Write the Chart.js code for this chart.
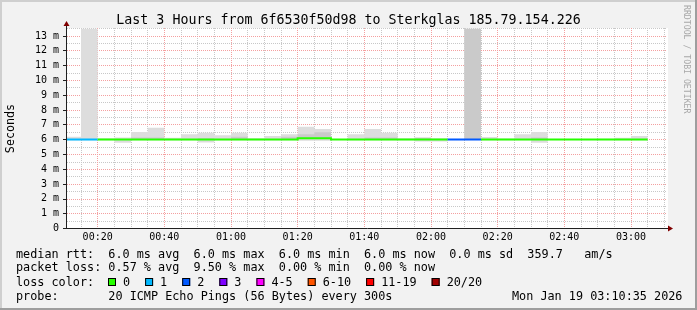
<!DOCTYPE html>
<html lang="en">
<head>
<meta charset="utf-8">
<title>Smokeping - last 3 hours</title>
<script src="https://cdn.jsdelivr.net/npm/chart.js@4.4.1/dist/chart.umd.min.js"></script>
<style>
    html, body { margin: 0; padding: 0; background: #f2f2f2; }
    canvas { display: block; }
</style>
</head>
<body>
<canvas id="diagram" width="697" height="310"></canvas>
<script>
// start of each 5 minute bin, minutes after midnight (last entry closes the final bin)
const binStart = [10, 15, 20, 25, 30, 35, 40, 45, 50, 55, 60, 65,
    70, 75, 80, 85, 90, 95, 100, 105, 110, 115, 120, 125,
    130, 135, 140, 145, 150, 155, 160, 165, 170, 175, 180, 185];

// median rtt per bin (ms)
const medianRtt = [6.00, 6.00, 6.00, 6.00, 6.00,
    6.00, 6.00, 6.00, 6.00, 6.00,
    6.00, 6.00, 6.00, 6.00, 6.09,
    6.09, 6.00, 6.00, 6.00, 6.00,
    6.00, 6.00, 6.00, 6.00, 6.00,
    6.00, 6.00, 6.00, 6.00, 6.00,
    6.00, 6.00, 6.00, 6.00, 6.00];

// smoke: lowest and highest ping per bin (ms)
const smokeMin = [5.95, 5.95, 5.95, 5.78, 5.95,
    5.95, 5.95, 5.95, 5.80, 5.95,
    5.95, 5.95, 5.95, 5.95, 5.92,
    5.92, 5.97, 5.95, 5.95, 5.95,
    5.95, 5.88, 5.88, 6.00, 6.00,
    5.95, 5.95, 5.95, 5.78, 5.97,
    5.98, 5.98, 5.97, 5.95, 5.95];

const smokeMax = [6.19, 14.0, 6.10, 6.15, 6.52,
    6.80, 6.12, 6.37, 6.46, 6.30,
    6.46, 6.10, 6.24, 6.37, 6.86,
    6.72, 6.03, 6.37, 6.72, 6.46,
    6.10, 6.15, 6.10, 6.00, 14.0,
    6.17, 6.08, 6.37, 6.52, 6.03,
    6.03, 6.03, 6.06, 6.12, 6.25];

// denser inner smoke, from the median up to this value (ms)
const smokeMid = [6.00, 6.00, 6.00, 6.00, 6.15,
    6.15, 6.00, 6.00, 6.10, 6.00,
    6.20, 6.00, 6.00, 6.20, 6.37,
    6.50, 6.00, 6.00, 6.15, 6.15,
    6.00, 6.13, 6.00, 6.00, 14.0,
    6.00, 6.00, 6.00, 6.15, 6.00,
    6.00, 6.00, 6.00, 6.00, 6.00];

// lost pings (of 20) per bin
const lossCount = [1, 1, 0, 0, 0, 0, 0, 0, 0, 0,
    0, 0, 0, 0, 0, 0, 0, 0, 0, 0,
    0, 0, 0, 2, 2, 0, 0, 0, 0, 0,
    0, 0, 0, 0, 0];

const xTickValues = [20, 40, 60, 80, 100, 120, 140, 160, 180];
const xTickLabels = ['00:20', '00:40', '01:00', '01:20', '01:40', '02:00', '02:20', '02:40', '03:00'];
const yTickLabels = ['0', '1 m', '2 m', '3 m', '4 m', '5 m', '6 m', '7 m',
    '8 m', '9 m', '10 m', '11 m', '12 m', '13 m'];

const lossLabels = ['0', '1', '2', '3', '4-5', '6-10', '11-19', '20/20'];
const lossColors = ['#26ff00', '#00b8ff', '#0059ff', '#7e00ff', '#ff00ff', '#ff5500', '#ff0000', '#a10000'];

const titleText = 'Last 3 Hours from 6f6530f50d98 to Sterkglas 185.79.154.226';
const rttLine = 'median rtt:  6.0 ms avg  6.0 ms max  6.0 ms min  6.0 ms now  0.0 ms sd  359.7   am/s';
const lossLine = 'packet loss: 0.57 % avg  9.50 % max  0.00 % min  0.00 % now';
const probeLine = 'probe:       20 ICMP Echo Pings (56 Bytes) every 300s';
const dateText = 'Mon Jan 19 03:10:35 2026';

const MONO = 'DejaVu Sans Mono';
const GRID = '#c8c8c8';
const MGRID = '#f4a0a0';

/**
* Maps number of lost pings to index in the loss colour legend
* @param {number} n - lost pings
* @returns {number}
*/
function lossIndex(n) {
    if (n <= 3) return n;
    if (n <= 5) return 4;
    if (n <= 10) return 5;
    if (n <= 19) return 6;
    return 7;
}

/**
* Builds step points from a per-bin series
* @param {Array} values - one value per bin
* @returns {Array} points {x, y}
*/
function toSteps(values) {
    const pts = values.map((v, i) => ({ x: binStart[i], y: v }));
    pts.push({ x: binStart[values.length], y: values[values.length - 1] });
    return pts;
}

/**
* Dotted grid line, one pixel on and one off
*/
function dottedLine(ctx, x0, y0, x1, y1, color) {
    ctx.fillStyle = color;
    if (y0 === y1) {
        for (let x = x0; x < x1; x += 2) ctx.fillRect(x, y0, 1, 1);
    } else {
        for (let y = y0; y < y1; y += 2) ctx.fillRect(x0, y, 1, 1);
    }
}

/**
* Pixel row of a y value, snapped to whole pixels
*/
function rowOf(scale, v) {
    return Math.floor(scale.getPixelForValue(v) + 0.2);
}

/**
* Background, grid, frame, axes, arrows and the text block of the rrdtool graph
*/
const rrdFrame = {
    id: 'rrdFrame',
    beforeDraw(chart) {
        const ctx = chart.ctx;
        const a = chart.chartArea;
        const L = Math.round(a.left), R = Math.round(a.right);
        const T = Math.floor(a.top), B = Math.floor(a.bottom);
        ctx.save();
        ctx.fillStyle = '#f2f2f2';
        ctx.fillRect(0, 0, 697, 310);
        ctx.fillStyle = '#cfcfcf';
        ctx.fillRect(0, 0, 697, 2);
        ctx.fillRect(0, 0, 2, 310);
        ctx.fillStyle = '#9e9e9e';
        ctx.fillRect(0, 308, 697, 2);
        ctx.fillRect(695, 0, 2, 310);
        ctx.fillStyle = '#ffffff';
        ctx.fillRect(L, T, R - L + 1, B - T);
        ctx.restore();
    },
    beforeDatasetsDraw(chart) {
        const ctx = chart.ctx;
        const a = chart.chartArea;
        const xs = chart.scales.x;
        const ys = chart.scales.y;
        const L = Math.round(a.left), R = Math.round(a.right);
        const T = Math.floor(a.top), B = Math.floor(a.bottom);
        ctx.save();
        const majors = [];
        for (let m = 15; m <= 190; m += 5) {
            const px = Math.floor(xs.getPixelForValue(m));
            if (m % 20 === 0) majors.push(['v', px]);
            else dottedLine(ctx, px, T, px, B, GRID);
        }
        for (let v = 0.5; v <= 13.5; v += 0.5) {
            const py = rowOf(ys, v);
            if (Number.isInteger(v)) majors.push(['h', py]);
            else dottedLine(ctx, L, py, R, py, GRID);
        }
        majors.forEach(([dir, p]) => {
            if (dir === 'v') dottedLine(ctx, p, T, p, B, MGRID);
            else dottedLine(ctx, L, p, R, p, MGRID);
        });
        ctx.restore();
    },
    afterDraw(chart) {
        const ctx = chart.ctx;
        const a = chart.chartArea;
        const yScale = chart.scales.y;
        const L = Math.round(a.left), R = Math.round(a.right);
        const T = Math.floor(a.top), B = Math.floor(a.bottom);
        ctx.save();

        // axes
        ctx.strokeStyle = '#202020';
        ctx.lineWidth = 1;
        ctx.beginPath();
        ctx.moveTo(L - 0.5, B + 1);
        ctx.lineTo(L - 0.5, T - 2);
        ctx.moveTo(L - 1, B + 0.5);
        ctx.lineTo(R + 2, B + 0.5);
        for (let v = 1; v <= 13; v++) {
            const py = rowOf(yScale, v) + 0.5;
            ctx.moveTo(L - 4, py);
            ctx.lineTo(L - 1, py);
        }
        ctx.moveTo(L - 4, B + 0.5);
        ctx.lineTo(L - 1, B + 0.5);
        ctx.stroke();

        // arrows
        ctx.fillStyle = '#800000';
        ctx.beginPath();
        ctx.moveTo(L - 0.5, T - 7);
        ctx.lineTo(L - 3.5, T - 2);
        ctx.lineTo(L + 2.5, T - 2);
        ctx.closePath();
        ctx.fill();
        ctx.beginPath();
        ctx.moveTo(R + 6, B + 0.5);
        ctx.lineTo(R + 1, B - 2.5);
        ctx.lineTo(R + 1, B + 3.5);
        ctx.closePath();
        ctx.fill();

        // title
        ctx.fillStyle = '#000';
        ctx.textBaseline = 'alphabetic';
        ctx.textAlign = 'center';
        ctx.font = '13.3px "' + MONO + '"';
        ctx.fillText(titleText, 348.5, 24);

        // legend block
        ctx.textAlign = 'left';
        ctx.font = '11.8px "' + MONO + '"';
        ctx.fillText(rttLine, 16, 258);
        ctx.fillText(lossLine, 16, 271);
        ctx.fillText('loss color:', 16, 286);
        ctx.fillText(probeLine, 16, 300);
        ctx.fillText(dateText, 512, 300);

        let bx = 108;
        lossLabels.forEach((lab, i) => {
            ctx.fillStyle = lossColors[i];
            ctx.fillRect(bx, 278, 8, 8);
            ctx.strokeStyle = '#000';
            ctx.strokeRect(bx + 0.5, 278.5, 7, 7);
            ctx.fillStyle = '#000';
            ctx.fillText(lab, bx + 15, 286);
            bx += 30 + ctx.measureText(lab).width;
        });

        // watermark
        ctx.translate(686.5, 5);
        ctx.rotate(Math.PI / 2);
        ctx.fillStyle = '#a8a8a8';
        ctx.font = '8.2px "' + MONO + '"';
        ctx.textBaseline = 'middle';
        ctx.fillText('RRDTOOL / TOBI OETIKER', 0, 0);
        ctx.restore();
    }
};

/**
* Draws the smokeping graph
* @returns {void}
*/
function createChart() {
    const ctx = document.getElementById('diagram').getContext('2d');
    const hidden = { borderWidth: 0, borderColor: 'transparent', pointRadius: 0, stepped: true };

    new Chart(ctx, {
        type: 'line',
        data: {
            datasets: [
                {
                    label: 'median rtt',
                    data: toSteps(medianRtt),
                    stepped: true,
                    borderWidth: 2,
                    borderColor: lossColors[0],
                    pointRadius: 0,
                    fill: false,
                    segment: {
                        borderColor: c => lossColors[lossIndex(lossCount[c.p0DataIndex])]
                    }
                },
                Object.assign({ label: 'smoke inner', data: toSteps(smokeMid), backgroundColor: '#cacaca', fill: 2 }, hidden),
                Object.assign({ label: 'median base', data: toSteps(medianRtt), fill: false }, hidden),
                Object.assign({ label: 'smoke max', data: toSteps(smokeMax), backgroundColor: '#dddddd', fill: 4 }, hidden),
                Object.assign({ label: 'smoke min', data: toSteps(smokeMin), fill: false }, hidden)
            ]
        },
        options: {
            responsive: false,
            animation: false,
            devicePixelRatio: 1,
            layout: { padding: { top: 28.5, right: 30, bottom: 0, left: 0 } },
            plugins: {
                legend: { display: false },
                tooltip: { enabled: false }
            },
            scales: {
                x: {
                    type: 'linear',
                    min: 10.8,
                    max: 190.8,
                    afterBuildTicks: scale => {
                        scale.ticks = xTickValues.map(v => ({ value: v }));
                    },
                    afterFit: scale => { scale.height = 81.5; },
                    ticks: {
                        autoSkip: false,
                        maxRotation: 0,
                        padding: 3,
                        color: '#000',
                        font: { family: MONO, size: 10 },
                        callback: (value, i) => xTickLabels[i]
                    },
                    grid: { display: false, drawTicks: false },
                    border: { display: false }
                },
                y: {
                    min: 0,
                    max: 13.5,
                    afterBuildTicks: scale => {
                        scale.ticks = yTickLabels.map((lab, i) => ({ value: i }));
                    },
                    afterFit: scale => { scale.width = 67; },
                    ticks: {
                        autoSkip: false,
                        padding: 8,
                        color: '#000',
                        font: { family: MONO, size: 10 },
                        callback: (value, i) => yTickLabels[i]
                    },
                    grid: { display: false, drawTicks: false },
                    border: { display: false },
                    title: {
                        display: true,
                        text: 'Seconds',
                        color: '#000',
                        font: { family: MONO, size: 11.7 },
                        padding: { top: 4, bottom: 0 }
                    }
                }
            }
        },
        plugins: [rrdFrame]
    });
}

createChart();
</script>
</body>
</html>
